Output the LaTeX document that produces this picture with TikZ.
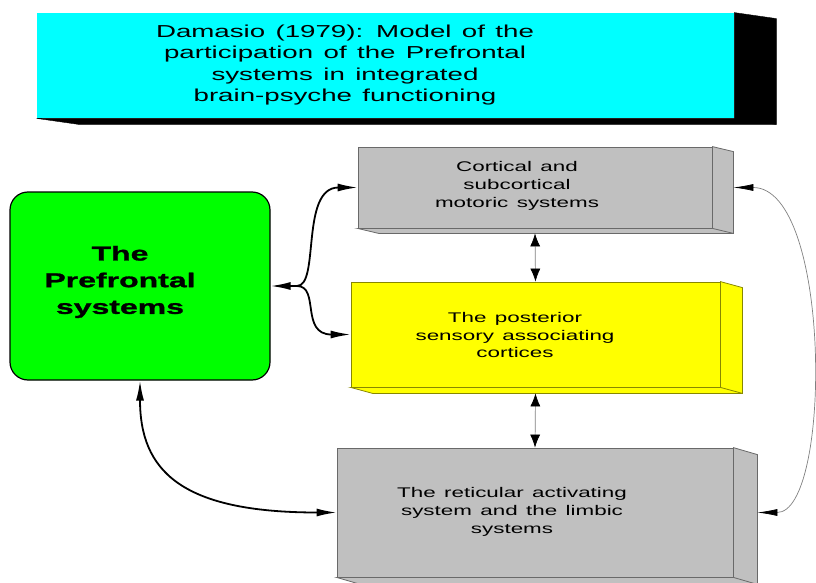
\documentclass[tikz,border=0pt]{standalone}
\usepackage{fontspec}
\setmainfont{Liberation Sans}[FakeStretch=1.6, WordSpace=1.35]
\newfontfamily\heavyfont{Liberation Sans}[FakeStretch=1.6, BoldFeatures={FakeBold=1.3}]
\usetikzlibrary{arrows.meta}

\definecolor{titlecyan}{RGB}{0,255,255}
\definecolor{boxgray}{RGB}{192,192,192}
\definecolor{edgegray}{RGB}{105,105,105}
\definecolor{pfgreen}{RGB}{0,255,0}
\definecolor{boxyellow}{RGB}{255,255,0}
\definecolor{edgeyellow}{RGB}{135,135,0}

% side and bottom faces of a block
\newcommand{\extrude}[4]{%
  \filldraw[#2] (#1.north east) -- ++(#3,#4) -- ([shift={(#3,#4)}]#1.south east)
    -- ([shift={(#3,#4)}]#1.south west) -- (#1.south west) -- (#1.south east) -- cycle;
  \draw[#2] (#1.south east) -- ++(#3,#4);}

\tikzset{
  face/.style={rectangle, inner sep=0pt, line width=0.8pt},
  heavy/.style={line width=1.8pt, >={Latex[length=20pt,width=8pt]}},
  light/.style={draw=gray, line width=0.7pt, >={Latex[length=13pt,width=10pt,color=black]}},
  returnlink/.style={draw=gray, line width=0.7pt, >={Latex[length=20pt,width=7pt,color=black]}},
}

\begin{document}
\begin{tikzpicture}[x=1pt,y=-1pt]
    \useasboundingbox (0,0) rectangle (816,583);

    % Title block
    \node[face, fill=titlecyan, minimum width=697, minimum height=105] (title) at (385.5,65.5) {};
    \extrude{title}{fill=black, draw=black}{42}{6}
    \node[align=center, font=\fontsize{17.3}{21.5}\selectfont] (titletext) at (345,65)
        {Damasio (1979): Model of the\\participation of the Prefrontal\\systems in integrated\\brain-psyche functioning};

    % Prefrontal systems
    \node[face, draw=black, line width=1.2pt, fill=pfgreen, rounded corners=18pt,
          minimum width=260, minimum height=188] (pfs) at (140,286) {};
    \node[align=center, font=\heavyfont\bfseries\fontsize{20}{26.7}\selectfont] (pfstext) at (120,282)
        {The\\Prefrontal\\systems};

    % Blocks on the right
    \node[face, draw=edgegray, fill=boxgray, minimum width=354, minimum height=81] (motor) at (535,187.5) {};
    \extrude{motor}{fill=boxgray, draw=edgegray, line width=0.8pt}{21}{5}
    \node[align=center, font=\fontsize{14}{17.8}\selectfont] (motortext) at (517,186)
        {Cortical and\\subcortical\\motoric systems};

    \node[face, draw=edgeyellow, fill=boxyellow, minimum width=369, minimum height=105] (posterior) at (535.5,334.5) {};
    \extrude{posterior}{fill=boxyellow, draw=edgeyellow, line width=0.8pt}{22}{6}
    \node[align=center, font=\fontsize{14}{17.8}\selectfont] (posteriortext) at (515,335)
        {The posterior\\sensory associating\\cortices};

    \node[face, draw=edgegray, fill=boxgray, minimum width=396, minimum height=129] (reticular) at (535,512.5) {};
    \extrude{reticular}{fill=boxgray, draw=edgegray, line width=0.8pt}{24}{7}
    \node[align=center, font=\fontsize{14}{17.8}\selectfont] (reticulartext) at (512,512)
        {The reticular activating\\system and the limbic\\systems};

    % Connectors
    \coordinate (fork) at (297,286);
    \draw[heavy, ->] (fork) -- (pfs.east);
    \draw[heavy, ->] (fork) .. controls (320,286) and (300,187.5) .. (motor.west);
    \draw[heavy, ->] (fork) .. controls (320,286) and (300,334.5) .. (posterior.west);
    \draw[heavy, <->] (pfs.south) .. controls (140,470) and (180,512.5) .. (reticular.west);

    \draw[light, <->] ([yshift=-5pt]motor.south) -- (posterior.north);
    \draw[light, <->] ([yshift=-6pt]posterior.south) -- (reticular.north);

    \coordinate (motorside) at ([xshift=21pt]motor.east);
    \coordinate (reticularside) at ([xshift=24pt]reticular.east);
    \draw[returnlink, <->] (motorside) .. controls (832,187.5) and (832,512.5) .. (reticularside);
\end{tikzpicture}
\end{document}
